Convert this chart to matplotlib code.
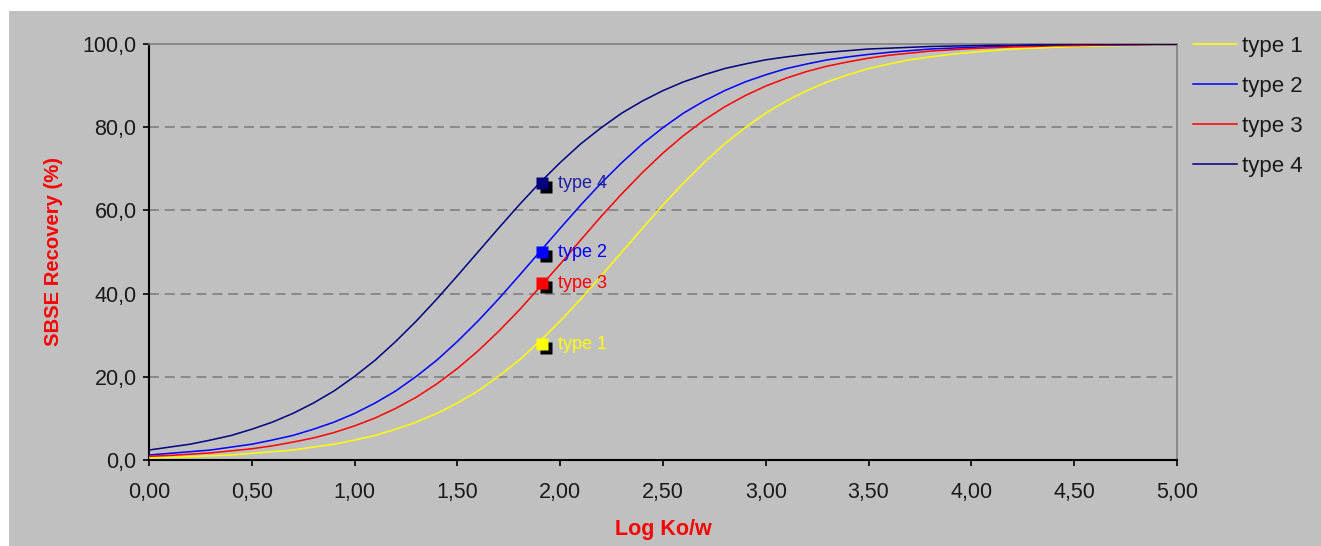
# SBSE recovery curves vs Log Ko/w

import matplotlib
matplotlib.use('Agg')
import matplotlib.pyplot as plt
import matplotlib.transforms as mtransforms
from matplotlib.patches import Rectangle

plt.rcParams['font.family'] = ['Liberation Sans', 'DejaVu Sans']

# Log Ko/w values (0.0 to 5.0 every 0.1)
log_kow = [0.0, 0.1, 0.2, 0.3, 0.4, 0.5, 0.6, 0.7, 0.8, 0.9,
           1.0, 1.1, 1.2, 1.3, 1.4, 1.5, 1.6, 1.7, 1.8, 1.9,
           2.0, 2.1, 2.2, 2.3, 2.4, 2.5, 2.6, 2.7, 2.8, 2.9,
           3.0, 3.1, 3.2, 3.3, 3.4, 3.5, 3.6, 3.7, 3.8, 3.9,
           4.0, 4.1, 4.2, 4.3, 4.4, 4.5, 4.6, 4.7, 4.8, 4.9, 5.0]

# recovery (%)
type1 = [0.5, 0.6, 0.8, 1.0, 1.2, 1.6, 2.0, 2.4, 3.1, 3.8,
         4.8, 5.9, 7.4, 9.1, 11.2, 13.7, 16.6, 20.1, 24.0, 28.5,
         33.4, 38.7, 44.3, 50.0, 55.7, 61.3, 66.6, 71.5, 76.0, 79.9,
         83.4, 86.3, 88.8, 90.9, 92.6, 94.1, 95.2, 96.2, 96.9, 97.5,
         98.0, 98.4, 98.8, 99.0, 99.2, 99.4, 99.5, 99.6, 99.7, 99.7, 99.8]
type2 = [1.2, 1.6, 2.0, 2.4, 3.1, 3.8, 4.8, 5.9, 7.4, 9.1,
         11.2, 13.7, 16.6, 20.1, 24.0, 28.5, 33.4, 38.7, 44.3, 50.0,
         55.7, 61.3, 66.6, 71.5, 76.0, 79.9, 83.4, 86.3, 88.8, 90.9,
         92.6, 94.1, 95.2, 96.2, 96.9, 97.5, 98.0, 98.4, 98.8, 99.0,
         99.2, 99.4, 99.5, 99.6, 99.7, 99.7, 99.8, 99.8, 99.9, 99.9, 99.9]
type3 = [0.9, 1.1, 1.4, 1.7, 2.2, 2.7, 3.4, 4.3, 5.3, 6.6,
         8.2, 10.1, 12.4, 15.1, 18.3, 22.0, 26.2, 30.9, 36.0, 41.5,
         47.1, 52.9, 58.6, 64.0, 69.1, 73.8, 78.0, 81.7, 84.9, 87.6,
         89.9, 91.8, 93.4, 94.7, 95.7, 96.6, 97.3, 97.8, 98.3, 98.6,
         98.9, 99.1, 99.3, 99.4, 99.6, 99.6, 99.7, 99.8, 99.8, 99.9, 99.9]
type4 = [2.4, 3.1, 3.8, 4.8, 5.9, 7.4, 9.1, 11.2, 13.7, 16.6,
         20.1, 24.0, 28.5, 33.4, 38.7, 44.3, 50.0, 55.7, 61.3, 66.6,
         71.5, 76.0, 79.9, 83.4, 86.3, 88.8, 90.9, 92.6, 94.1, 95.2,
         96.2, 96.9, 97.5, 98.0, 98.4, 98.8, 99.0, 99.2, 99.4, 99.5,
         99.6, 99.7, 99.7, 99.8, 99.8, 99.9, 99.9, 99.9, 99.9, 99.9, 99.9]

series_names = ['type 1', 'type 2', 'type 3', 'type 4']
series_colors = ['#FFFF00', '#0000FF', '#FF0000', '#000080']
label_colors = ['#FFFF00', '#0000FF', '#FF0000', '#1F1F9F']

# single points at Log Ko/w = 1.91
point_x = 1.91
point_y = [27.8, 49.9, 42.5, 66.5]

xticks = [0.0, 0.5, 1.0, 1.5, 2.0, 2.5, 3.0, 3.5, 4.0, 4.5, 5.0]
xtick_labels = ['0,00', '0,50', '1,00', '1,50', '2,00', '2,50',
                '3,00', '3,50', '4,00', '4,50', '5,00']
yticks = [0, 20, 40, 60, 80, 100]
ytick_labels = ['0,0', '20,0', '40,0', '60,0', '80,0', '100,0']

gris = '#C0C0C0'
texto = '#1a1a1a'

fig = plt.figure(figsize=(13.21, 5.46), dpi=100)
fig.patch.set_facecolor('white')
fig.patches.append(Rectangle((9 / 1321, 0), 1, 535 / 546, transform=fig.transFigure,
                             facecolor=gris, edgecolor='none', zorder=-10))

ax = fig.add_axes([149 / 1321, 86 / 546, 1028 / 1321, 416 / 546])
ax.set_facecolor(gris)

for ys, name, col in zip([type1, type2, type3, type4], series_names, series_colors):
    ax.plot(log_kow, ys, color=col, lw=1.1, label=name, zorder=3)

# marker shadows, offset down-right
sombra = mtransforms.offset_copy(ax.transData, fig=fig, x=4, y=-4, units='dots')
for py in point_y:
    ax.plot([point_x], [py], 's', color='black', ms=9, mec='none',
            transform=sombra, zorder=4, clip_on=False)
for py, col, name, lcol in zip(point_y, series_colors, series_names, label_colors):
    ax.plot([point_x], [py], 's', color=col, ms=9, mec='none', zorder=5)
    ax.annotate(name, (point_x, py), xytext=(11.5, 0), textcoords='offset points',
                va='center', ha='left', color=lcol, fontsize=13, zorder=6)

ax.set_xlim(0, 5)
ax.set_ylim(0, 100)
ax.set_xticks(xticks)
ax.set_xticklabels(xtick_labels)
ax.set_yticks(yticks)
ax.set_yticklabels(ytick_labels)
ax.tick_params(axis='both', direction='out', length=4, width=1.2, colors='black',
               labelcolor=texto, labelsize=15.5)
ax.tick_params(axis='x', pad=12)
ax.tick_params(axis='y', pad=5)

for y in [20, 40, 60, 80]:
    ax.axhline(y, color='#808080', lw=1.2, ls=(0, (6, 3.5)), zorder=1)

ax.spines['left'].set_color('black')
ax.spines['bottom'].set_color('black')
ax.spines['left'].set_linewidth(1.5)
ax.spines['bottom'].set_linewidth(1.5)
ax.spines['top'].set_color('#808080')
ax.spines['right'].set_color('#808080')
ax.spines['top'].set_linewidth(1.2)
ax.spines['right'].set_linewidth(1.2)

ax.set_ylabel('SBSE Recovery (%)', color='#FF0000', fontsize=14.6, fontweight='bold',
              labelpad=14)
ax.set_xlabel('Log Ko/w', color='#FF0000', fontsize=15.5, fontweight='bold', labelpad=11)

ax.legend(loc='upper left', bbox_to_anchor=(1173 / 1321, 1 - 16 / 546),
          bbox_transform=fig.transFigure, frameon=False, fontsize=16,
          handlelength=2.0, handletextpad=0.2, labelspacing=0.85, labelcolor=texto)

fig.savefig('out.png', dpi=100)
